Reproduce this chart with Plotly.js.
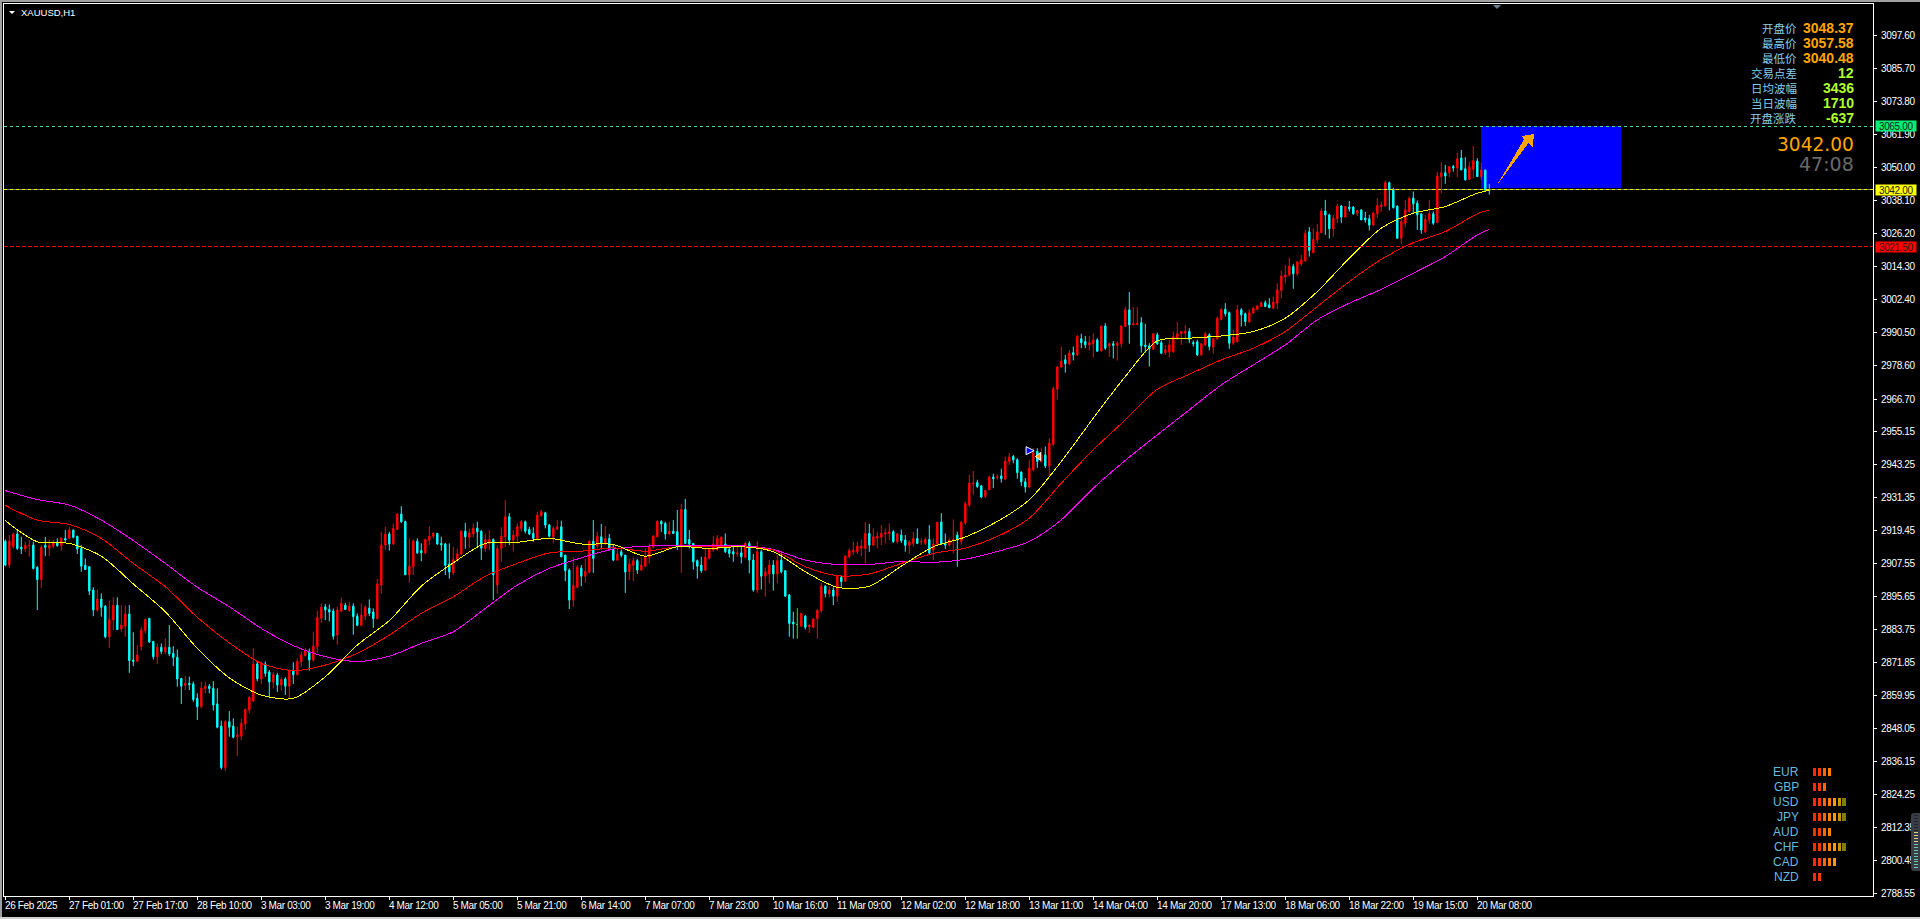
<!DOCTYPE html>
<html><head><meta charset="utf-8">
<script src="https://cdn.plot.ly/plotly-3.0.1.min.js"></script>
<style>
html,body{margin:0;padding:0;background:#000;overflow:hidden;width:1920px;height:919px}
#chart{position:absolute;left:0;top:0;width:1920px;height:919px}
.c{position:absolute}
.ytick text{letter-spacing:-.35px}
.shapelayer path,.scatterlayer path.js-line{shape-rendering:crispEdges}
</style></head><body>
<div id="chart"></div>
<script>
const high=[
2916.1,2917.7,2918.5,2919.5,2917.1,2915.3,2915.9,2915.3,2906.5,2914.1,2917.1,2916.1,2915.9,2916.5,2916.9,2919.5,2920.7,2919.7,2917.3,2914.1,
2909.3,2906.5,2898.9,2898.1,2896.7,2892.5,2894.1,2895.3,2895.3,2892.5,2892.4,2892.5,2882.7,2878.1,2884.7,2887.7,2887.9,2879.4,2878.7,2878.7,
2880.5,2885.3,2877.7,2876.5,2866.1,2866.9,2866.7,2865,2860.7,2864.9,2864.9,2864.1,2865.1,2862.5,2850.9,2851.1,2854.3,2851.7,2848.7,2851.6,
2855.3,2859.7,2877,2872,2872.2,2872.2,2869.1,2868.5,2868.1,2866.5,2866.5,2869.3,2871.9,2873.3,2875.7,2877.1,2876.8,2882.9,2890.5,2893.1,
2892.9,2892.7,2891.3,2891.9,2895.3,2893.3,2893.6,2893.1,2889.5,2893.1,2892.5,2894.5,2891.3,2901.9,2918.9,2920.7,2918.9,2921.9,2925.5,2928.1,
2922.9,2916.5,2916.1,2916.5,2914.7,2916.4,2920.9,2918.7,2918.5,2917.1,2914.9,2914.7,2913.5,2912.8,2919.5,2922.1,2920,2921.9,2922.5,2919.5,
2918.3,2919.5,2916.5,2914.1,2920.5,2930.3,2925.6,2919.5,2921.9,2923.1,2922.9,2920.7,2920.5,2926.1,2926.7,2926.1,2921.7,2920.9,2923.1,2922.9,
2910.5,2905.7,2909.7,2906.9,2906.9,2909.3,2915.7,2923.1,2918.9,2921.7,2920.9,2918.1,2914.1,2912.9,2912.5,2910.5,2909.3,2909.7,2909.1,2909.7,
2912.9,2914.7,2917.7,2923.1,2923.1,2922.5,2922.5,2923.1,2926.7,2928.9,2930.7,2919.5,2914.7,2908.9,2909.9,2912.9,2912.9,2917.3,2917.7,2917.3,
2918.3,2914.1,2913.5,2913.5,2913.7,2915.3,2915.5,2910.9,2915.5,2912.5,2906.1,2908.7,2908.7,2910.5,2911.1,2904.9,2896.5,2890.1,2891.4,2889.7,
2888.9,2885.7,2887.7,2890.9,2900.5,2899.7,2899.3,2898.9,2903.3,2903.3,2910.5,2912.9,2915.3,2915.3,2916.1,2922.3,2921.7,2920.1,2918.9,2921.3,
2920.1,2921.9,2919.5,2918.5,2919.7,2917.7,2915.9,2918.9,2920.1,2916.5,2916.9,2921.3,2916.5,2922.5,2925.6,2918.3,2916.5,2923.3,2918.9,2922.6,
2929.8,2939.4,2940.8,2937.6,2935.8,2934,2939,2939.8,2939.6,2941.6,2946,2947.2,2946.6,2945.4,2940.6,2938.2,2944.8,2949,2949,2949,
2949.6,2952.6,2971.2,2978.6,2985.6,2982.6,2984.4,2985.6,2989.8,2990.2,2989.4,2989.4,2990.4,2988.6,2993,2994,2987,2987.6,2987.4,2993.3,
3000,3005.2,2999.8,2999.8,2996.2,2993.8,2986.8,2990.4,2990.6,2987.8,2986.2,2988,2991,2994.4,2991,2993.4,2992.2,2987.8,2988,2986.8,
2990.8,2990.4,2988.6,2996.4,2999.4,3001.2,2998.2,2991.6,3000.6,2999.4,2997.8,2999,3000,3000.6,3001.8,3002.2,3003,3003.6,3008.4,3013,
3015,3017.6,3015.4,3016.2,3018.6,3027.6,3028.6,3028.2,3029.8,3035.4,3038.4,3033.4,3033,3037,3036.6,3036.2,3038,3036.2,3034.8,3035,
3034.1,3033,3034.1,3039,3037.8,3045.4,3045,3042.8,3036.4,3032.2,3038.4,3039.6,3041.4,3038.2,3033.4,3033,3038.4,3034.2,3048.6,3052,
3051,3050.4,3051,3055.4,3056.4,3053.8,3052.1,3057.8,3053.4,3051.8,3049.2,3044.2];
const low=[
2906.5,2905.9,2912.9,2912.3,2910.9,2911.7,2909.9,2905.3,2890.7,2898.7,2910.1,2910.1,2912.9,2913.5,2912.1,2915.3,2916.1,2916.5,2910.9,2904.5,
2905.1,2896.1,2888.5,2890.1,2888.3,2880.5,2877.1,2883.5,2883.5,2882.9,2881.1,2868.1,2870.5,2872.1,2876.1,2882.3,2878.9,2872.9,2871.3,2874.9,
2874.9,2874.1,2870.5,2863.1,2856.9,2861.9,2861.9,2857.7,2851.1,2855.4,2860.7,2860.7,2854.5,2848.1,2833.3,2832.7,2845.1,2844.5,2838.1,2843.9,
2847.7,2853.5,2857.7,2865,2864.1,2866.7,2859.3,2862.5,2861.2,2861.7,2860.1,2859.1,2864.1,2867.2,2870.3,2873.9,2868.9,2872.1,2875.3,2886.1,
2887.1,2886.6,2880.1,2878.2,2890.1,2890.7,2890.1,2881.8,2884.9,2884.9,2887.1,2888.5,2884.3,2887.3,2896.5,2912.3,2912.1,2914.1,2919.5,2922.1,
2903.3,2900.5,2903.3,2910.9,2908.3,2910.9,2914.1,2916.4,2914.2,2912.1,2903.3,2902,2903.4,2908.1,2910.5,2912.8,2913.1,2916.9,2913.5,2908.7,
2911.7,2912.3,2894.3,2896.7,2908,2913.5,2914.1,2911.7,2914.7,2918.9,2918.3,2917.7,2915.3,2916.1,2924.3,2920.1,2916.9,2914.7,2919.5,2909.7,
2901.1,2891.1,2891.9,2898.6,2899.3,2900.5,2903.9,2904.1,2912.9,2912.5,2914.1,2912.1,2908.3,2908.5,2909.7,2896.9,2901.5,2901.1,2903.7,2904.9,
2906.1,2907.5,2912.9,2916.9,2918.9,2916.1,2917.7,2918.1,2912.3,2904.1,2914.5,2912.9,2905.3,2902,2904.1,2904.7,2908.9,2911.7,2912.1,2913.5,
2911.3,2909.7,2908.1,2909.9,2907.5,2909.3,2903.9,2897.3,2896.9,2898.1,2895.5,2900.3,2897.7,2900.3,2903.9,2895.5,2881.1,2880.4,2880.4,2884.7,
2883.7,2882.5,2884.1,2880.4,2889.7,2895.3,2895.3,2892.5,2893.7,2899.1,2900.9,2909.3,2910.5,2910.9,2910.1,2907.5,2911.7,2913.7,2912.9,2914.1,
2914.7,2915.9,2914.9,2914.7,2914.9,2911.7,2910.9,2913.5,2914.5,2914.1,2914.1,2910.9,2908.7,2914.1,2914.1,2912.7,2913.5,2911.1,2906.3,2914.2,
2921.4,2927.8,2932.2,2934.6,2931,2931,2933.8,2934.6,2937.6,2936.6,2937.6,2943,2943.6,2938,2935.4,2933,2934.6,2940.7,2941.9,2943.8,
2941.8,2939,2949.8,2966.4,2977.8,2976.2,2978.9,2980.6,2982.2,2985,2985,2984.2,2981.6,2983.7,2983.8,2984.4,2981.8,2981.3,2980.6,2985.2,
2992.6,2986.6,2993.2,2993.3,2983.4,2983.4,2978.4,2984.4,2986.2,2983,2982.6,2981.6,2983.4,2988,2986.2,2988.2,2986.8,2985.6,2982.2,2982.2,
2985.8,2984.2,2983,2988,2995,2996.4,2984.8,2986.2,2987,2992.8,2993,2994.2,2997.4,2998.6,2999.8,2999.8,2999.4,2999,2999,3003,
3008.4,3010.8,3006.4,3011,3014.6,3016.2,3018,3019.2,3022.8,3026.4,3025.8,3024.5,3025.2,3030,3030,3032.2,3034.2,3033,3032.6,3031.2,
3030.2,3027.4,3029,3031.8,3034.2,3036,3034.6,3035.3,3024.4,3022.6,3028.6,3033.8,3033.6,3027.6,3026.2,3026.4,3029.8,3029.4,3030,3040.8,
3044.2,3046.6,3048.6,3046.6,3049.2,3045.4,3045.6,3046.2,3046.6,3045.6,3041.6,3040.3];
const open=[
2915.5,2906.9,2913.5,2918.1,2913.3,2912.7,2913.9,2914.1,2906.1,2901.7,2914,2913,2913.7,2915.2,2913.9,2916.5,2916.6,2919.5,2917.3,2912.9,
2906.8,2906.3,2897.9,2890.7,2894.7,2892.1,2881.1,2887.1,2892.4,2883.9,2884.9,2889.3,2872.7,2872.3,2877.5,2883.3,2887.7,2879.4,2873.9,2877.3,
2875.8,2877.3,2875.1,2873.7,2866.1,2863.5,2864.3,2864.1,2858.9,2855.9,2862.4,2863.3,2862.5,2856.9,2848.9,2834,2850.5,2848.9,2845.1,2845.3,
2849.7,2854.7,2857.9,2871.3,2865.9,2871.3,2868.4,2864.8,2867.3,2863.7,2865.9,2863.3,2868.9,2867.4,2872.1,2874.3,2875.8,2872.7,2877.5,2887.8,
2891.9,2890.9,2890.3,2881.7,2890.3,2892.4,2890.5,2892.1,2888.5,2885.2,2888.5,2891.4,2890,2887.6,2899.7,2914.1,2918.1,2914.5,2919.7,2925.3,
2922.6,2903.4,2906.3,2915.5,2912.1,2911.3,2915.9,2917.3,2918.3,2914.7,2914.5,2907.3,2904.1,2908.9,2910.9,2919.1,2916.9,2918.1,2920.2,2919.1,
2912.9,2914.7,2916.1,2899.7,2912.9,2917.1,2924.3,2915.9,2917.3,2920.1,2922.5,2919.7,2918.3,2916.5,2924.7,2925.7,2921.3,2917.1,2919.9,2920.7,
2910.5,2905.1,2894.3,2898.9,2905.8,2902.9,2904.4,2915.5,2913.7,2917.1,2914.7,2916.5,2912.7,2908.7,2911.7,2910.5,2904.6,2906.8,2908.5,2905.1,
2906.5,2909.7,2913.5,2917.1,2922.6,2921.9,2918.1,2919.1,2918.9,2914.1,2926.9,2916.1,2914.7,2908.5,2906.9,2905.1,2909.4,2912.3,2912.5,2914.1,
2914.5,2912.5,2911.7,2910.9,2911.3,2909.7,2914.7,2908.7,2897.9,2911.7,2902.9,2903.7,2906.9,2903.7,2908.7,2904.9,2896.1,2886.4,2885.5,2884.9,
2888.5,2884.7,2884.5,2887.6,2890.5,2899.3,2896.5,2897.9,2895.7,2902.5,2901.1,2909.9,2911.7,2911.7,2913,2912.9,2918.3,2914.1,2916.6,2916.9,
2918.1,2918.3,2918.9,2915.3,2917.7,2915.9,2914,2914.7,2916.5,2915.2,2914.7,2916.1,2912.3,2914.5,2922.4,2914.7,2914.1,2915.7,2917.7,2915.4,
2922,2928.6,2936.2,2936.6,2935.4,2931.6,2934,2938.6,2938.4,2939,2937.8,2944.2,2946,2944.8,2940.4,2936.9,2935,2941.2,2947.9,2944.2,
2946.6,2942.6,2950.4,2970.2,2978.2,2980.8,2979.4,2983.4,2982.6,2988.4,2987.4,2986.2,2986.6,2988,2984,2993,2985.8,2986.6,2986,2986.6,
2992.8,2998.8,2993.4,2993.5,2994.2,2986.1,2985.8,2984.6,2989.8,2987,2983.4,2983.7,2983.7,2988.6,2990.2,2990.4,2991,2987,2987.3,2982.6,
2986.2,2989.8,2985.4,2988.4,2995.4,2999,2997.8,2986.8,2987.4,2998.8,2997.4,2994.5,2997.6,2999,3000,3001.4,3000.6,2999.4,3001.2,3005.8,
3010.6,3011.4,3014.4,3011.8,3015.4,3016.4,3026.9,3019.4,3024,3026.6,3034.4,3033,3028,3031.6,3036.2,3032.2,3035.8,3035.8,3033.6,3034.8,
3031.9,3031.6,3029.3,3033.4,3036,3036.2,3044.6,3042,3036.2,3024.6,3030,3034.2,3039.1,3037.2,3033.4,3027,3031.2,3033.4,3030.2,3046.8,
3048.2,3048.2,3050.4,3049.9,3053.5,3049.6,3045.8,3049.4,3052.4,3046.8,3049.2,3042];
const close=[
2906.9,2915.5,2918.1,2912.9,2912.7,2914,2914,2905.7,2901.7,2913.3,2913.3,2914,2915.2,2913.9,2916.6,2915.9,2919.5,2916.9,2912.7,2906.5,
2905.3,2897.5,2890.7,2894.7,2891.7,2881.1,2887.3,2892.4,2883.7,2885.3,2889.3,2872.5,2872.2,2874.5,2883.5,2887.3,2879.2,2873.9,2877.3,2875.8,
2877.3,2874.9,2873.7,2865.9,2863.3,2864.3,2863.8,2858.5,2855.9,2862.5,2863.3,2862.4,2856.5,2848.5,2834,2850.5,2848.5,2844.9,2845.7,2849.9,
2854.9,2859.3,2871.3,2865.9,2871.3,2867.9,2864.8,2867.5,2863.7,2865.7,2863.3,2868.9,2867.4,2872.2,2874.5,2875.9,2872.7,2877.7,2888.1,2891.7,
2890.7,2890,2881.3,2890.7,2893.1,2890.9,2892.1,2888.3,2885.2,2888.9,2891.7,2889.5,2887.6,2900.1,2914.1,2918.1,2914.5,2920.1,2925.3,2922.5,
2903.4,2906.5,2915.5,2911.3,2911.3,2916.1,2917.3,2918.3,2914.5,2914.2,2906.8,2904.4,2908.9,2910.9,2919.1,2917.1,2918.5,2920.2,2918.9,2913,
2916.1,2916.1,2903.4,2912.9,2917.3,2924.3,2915.9,2917.7,2920.7,2922.5,2919.1,2918.1,2916.5,2924.9,2926.1,2921.3,2917.3,2920.1,2920.7,2909.9,
2904.9,2894.3,2899.6,2906.1,2902.9,2904.6,2915.5,2909.3,2917.3,2914.7,2916.5,2912.5,2908.7,2910.9,2910.4,2904.4,2907.3,2908.5,2905.1,2906.9,
2909.7,2913.5,2917.3,2922.6,2921.7,2918.1,2919.1,2918.3,2914.1,2926.9,2914.7,2914.5,2908.1,2906.5,2904.9,2909.7,2912.5,2914.5,2916.5,2916.9,
2911.7,2911.1,2910.9,2911.3,2909.9,2914.7,2908.7,2897.9,2911.7,2902.9,2904.5,2906.9,2903.7,2908.5,2904.5,2895.7,2885.9,2885.7,2885.5,2889.5,
2884.5,2885.2,2887.5,2890.7,2899.3,2896.7,2897.9,2895.7,2902.9,2900.9,2910.1,2912.1,2912.3,2913.7,2913.7,2918.3,2914.1,2917.1,2917.3,2918.3,
2918.5,2918.9,2915.3,2918.1,2915.7,2914,2915.2,2916.5,2914.7,2915.4,2916.1,2911.3,2914.5,2922.3,2914.5,2914.1,2915.9,2916.1,2915.9,2922.4,
2929,2936.4,2936.4,2935.2,2931.4,2933.8,2938.6,2938,2938.8,2938,2944.4,2945.8,2944.8,2940.2,2936.9,2935,2941.8,2947.4,2944.2,2946.6,
2942.6,2950.8,2970.4,2978.2,2980.4,2979.4,2983.2,2982.6,2989.2,2987,2986.2,2987,2988,2983.9,2993,2985,2986.6,2986,2986.8,2993,
2998.8,2993.4,2993.8,2994,2985.8,2985.6,2984.8,2990.2,2986.6,2983.2,2984.4,2986.2,2989.2,2990.2,2991,2991.1,2988.2,2986.6,2982.6,2986.6,
2990.2,2985.6,2988.4,2995.8,2999,2997.4,2986.8,2989,2998.8,2997,2994.6,2997.8,2999.4,3000.2,3001.4,3000,2999.6,3001.6,3006,3011,
3011.4,3014.6,3011.8,3016.1,3016.8,3026.4,3020.2,3024.2,3026.9,3034.4,3033,3028,3031.8,3036.2,3032.2,3036,3035.2,3033.4,3034.6,3031.2,
3031.2,3029.3,3033.6,3036.4,3036.6,3044.6,3042,3035.6,3024.6,3030.6,3034.8,3039,3037,3033,3027.6,3031.4,3033.4,3030,3047,3048.2,
3047,3050.4,3049.9,3053.2,3049.2,3045.6,3050.2,3052.6,3046.8,3049.2,3041.9,3041.8];

const maX=[0,8,16,24,32,40,48,56,64,72,80,88,96,104,112,120,128,136,144,152,160,168,176,184,192,200,208,216,224,232,240,248,256,264,272,280,288,296,304,312,320,328,336,344,352,360,368,371];
const maYellow=[2922.9,2915.3,2914.7,2910.1,2900.1,2890.1,2876.9,2866.3,2860.1,2858.9,2866.7,2878.1,2886.9,2899.3,2907.7,2914.7,2915.1,2916.5,2914.5,2914.3,2910.1,2913.5,2912.9,2913.5,2911.7,2904.5,2898.9,2899.3,2906.5,2913.5,2917,2922.6,2930.4,2944.2,2959.8,2974.8,2987.6,2988.6,2989.4,2991,2995.8,3005.4,3017.4,3028.2,3033.6,3036,3040.8,3041.8];
const maRed=[2928.4,2923.1,2921.5,2916.5,2907.5,2899.1,2888.1,2878.9,2871.5,2868.9,2870.9,2875.1,2881.7,2889.5,2895.5,2902.9,2907.5,2911.3,2911.9,2913.1,2911.9,2913.5,2913.5,2913.5,2912.3,2906.3,2903.1,2903.7,2907.5,2911.1,2913,2917.2,2923.8,2936.4,2948.4,2959.2,2970.2,2975.6,2980.8,2985,2991,3000,3009,3017,3023,3027,3033.4,3034.7];
const maMagenta=[2933.7,2930.5,2928.5,2923.1,2915.7,2907.5,2898.9,2891.9,2884.1,2877.9,2873.9,2872.2,2874.1,2878.7,2882.9,2891.3,2899.7,2905.7,2909.5,2912.7,2913.7,2914.1,2913.9,2913.9,2912.5,2908.7,2907.1,2907.1,2908.2,2907.9,2909,2911.8,2915.4,2923.2,2934.6,2944.6,2953.8,2962.8,2971.8,2979,2986.2,2995.2,3001.2,3006.2,3012,3018,3025.8,3027.8];

const yTicks=[3097.60,3085.70,3073.80,3061.90,3050.00,3038.10,3026.20,3014.30,3002.40,2990.50,2978.60,2966.70,2955.15,2943.25,2931.35,2919.45,2907.55,2895.65,2883.75,2871.85,2859.95,2848.05,2836.15,2824.25,2812.35,2800.45,2788.55];
const xTickLabels=["26 Feb 2025","27 Feb 01:00","27 Feb 17:00","28 Feb 10:00","3 Mar 03:00","3 Mar 19:00","4 Mar 12:00","5 Mar 05:00","5 Mar 21:00","6 Mar 14:00","7 Mar 07:00","7 Mar 23:00","10 Mar 16:00","11 Mar 09:00","12 Mar 02:00","12 Mar 18:00","13 Mar 11:00","14 Mar 04:00","14 Mar 20:00","17 Mar 13:00","18 Mar 06:00","18 Mar 22:00","19 Mar 15:00","20 Mar 08:00"];
const xTickStep=16;

const infoLabels=["开盘价","最高价","最低价","交易点差","日均波幅","当日波幅","开盘涨跌"];
const infoValues=["3048.37","3057.58","3040.48","12","3436","1710","-637"];
const currencies=["EUR","GBP","USD","JPY","AUD","CHF","CAD","NZD"];
const strength=[4,3,7,7,4,7,5,2];
const levels=[{p:3065.00,c:"#40E0A0",tag:"#00EE76",t:"3065.00",dash:"3px,3px"},{p:3042.00,c:"#FFFF00",tag:"#FFFF00",t:"3042.00",dash:"3px,3px"},{p:3021.50,c:"#FF0000",tag:"#FF0000",t:"3021.50",dash:"4px,2px"}];

// ---- frame geometry
const W=1920,H=919,L=4,T=4,R=1873,B=896;
const X=x=>(x-L)/(R-L), Y=y=>(B-y)/(B-T);
const barPx=4, x0Px=5.3, yRefPx=35.5, yScale=2.777;
const idx=x=>(x-x0Px)/barPx, price=y=>3097.6-(y-yRefPx)/yScale;
const axisFont="'Liberation Sans',Arial,sans-serif";
const labelBlue="#87CEEB";

const n=high.length, ids=[...Array(n).keys()];
const mainIds=ids.filter(i=>open[i]!==close[i]), dojiIds=ids.filter(i=>open[i]===close[i]);
const pick=(a,s)=>s.map(i=>a[i]);
const cs=(s,up,dn)=>({type:"candlestick",x:s,open:pick(open,s),high:pick(high,s),low:pick(low,s),close:pick(close,s),
  increasing:{line:{color:up,width:1},fillcolor:up},decreasing:{line:{color:dn,width:1},fillcolor:dn},whiskerwidth:0,hoverinfo:"skip",showlegend:false});
const line=(y,c)=>({type:"scatter",mode:"lines",x:maX,y:y,line:{color:c,width:1,shape:"spline",smoothing:0.8},hoverinfo:"skip",showlegend:false});

const traces=[cs(mainIds,"#FF0000","#00FFFF"),cs(dojiIds,"#00FF00","#00FF00"),
  line(maMagenta,"#FF00FF"),line(maRed,"#FF0000"),line(maYellow,"#FFFF00"),
  {type:"scatter",mode:"markers",x:[257.2],y:[2948.1],marker:{symbol:"arrow-right",size:8,color:"#0000FF",line:{color:"#FFFFFF",width:1}},hoverinfo:"skip",showlegend:false},
  {type:"scatter",mode:"markers",x:[258.4],y:[2946],marker:{symbol:"triangle-left",size:7,color:"#FFA500",line:{color:"#FFFFFF",width:1}},hoverinfo:"skip",showlegend:false}];

const shapes=[];
shapes.push({type:"rect",layer:"below",xref:"x",yref:"y",x0:idx(1481),x1:idx(1621),y0:price(188),y1:3065,fillcolor:"#0000FF",line:{width:0}});
shapes.push({type:"line",layer:"below",xref:"paper",yref:"y",x0:0,x1:1,y0:3042,y1:3042,line:{color:"#778899",width:1}});
levels.forEach(l=>shapes.push({type:"line",layer:"above",xref:"paper",yref:"y",x0:0,x1:1,y0:l.p,y1:l.p,line:{color:l.c,width:1,dash:l.dash}}));
const arrow=[[1497,185],[1524,139.5],[1521.7,136],[1534,134],[1532.7,146.7],[1528.5,143]];
shapes.push({type:"path",xref:"paper",yref:"paper",path:"M"+arrow.map(p=>X(p[0])+","+Y(p[1])).join(" L")+" Z",fillcolor:"#FFA500",line:{width:0}});
const stepCols=["#FF2A00","#FF3A00","#FF6600","#FF8000","#FF9900","#C89600","#808000"];
strength.forEach((s,r)=>{for(let k=0;k<s;k++){const x=1813+k*4.9,y=771.7+r*15;
  shapes.push({type:"rect",xref:"paper",yref:"paper",x0:X(x),x1:X(x+3.2),y0:Y(y+4),y1:Y(y-4),fillcolor:stepCols[k],line:{width:0}});}});

const ann=[];
const txt=(x,y,text,font,anchor)=>ann.push({xref:"paper",yref:"paper",x:X(x),y:Y(y),text,font,xanchor:anchor||"left",yanchor:"middle",showarrow:false,borderpad:0});
xTickLabels.forEach((t,i)=>ann.push({xref:"x",yref:"paper",x:i*xTickStep,y:Y(905.5),text:t,font:{family:axisFont,size:10,color:"#FFFFFF"},xanchor:"left",xshift:-3,yanchor:"middle",showarrow:false,borderpad:0}));
levels.forEach(l=>ann.push({xref:"paper",yref:"y",x:X(1874.5),y:l.p,text:l.t,font:{family:axisFont,size:10,color:"#202020"},bgcolor:l.tag,xanchor:"left",yanchor:"middle",showarrow:false,width:40,height:10,borderpad:0,align:"center"}));
txt(19.5,12.5,"XAUUSD,H1",{family:"'Liberation Sans',Arial,sans-serif",size:9.5,color:"#FFFFFF"});
infoLabels.forEach((t,i)=>{const y=28+i*15;
  txt(1798,y,t,{family:"'Noto Sans CJK SC',sans-serif",size:11.5,color:labelBlue},"right");
  txt(1855,y,"<b>"+infoValues[i]+"</b>",{family:"'Liberation Sans',Arial,sans-serif",size:14,color:i<3?"#FFA500":"#ADFF2F"},"right");});
txt(1855,145,"3042.00",{family:"'DejaVu Sans',sans-serif",size:18.6,color:"#FFA500"},"right");
txt(1855,163.5,"47:08",{family:"'DejaVu Sans',sans-serif",size:19,color:"#696969"},"right");
currencies.forEach((t,i)=>txt(1800,771.7+i*15,t,{family:"'Liberation Sans',Arial,sans-serif",size:12,color:"#66BBDD"},"right"));

const layout={width:W,height:H,margin:{l:L,t:T,r:W-R,b:H-B,pad:0},paper_bgcolor:"#000",plot_bgcolor:"#000",showlegend:false,dragmode:false,boxgap:0.5,
  xaxis:{type:"linear",range:[idx(L),idx(R)],rangeslider:{visible:false},showgrid:false,zeroline:false,showline:true,mirror:true,linecolor:"#FFF",linewidth:1,
    tickmode:"array",tickvals:xTickLabels.map((_,i)=>i*xTickStep),ticks:"outside",ticklen:3,tickcolor:"#FFF",tickwidth:1,showticklabels:false},
  yaxis:{side:"right",range:[price(B),price(T)],showgrid:false,zeroline:false,showline:true,mirror:true,linecolor:"#FFF",linewidth:1,
    tickmode:"array",tickvals:yTicks,ticktext:yTicks.map(v=>v.toFixed(2)),ticks:"outside",ticklen:3,tickcolor:"#FFF",tickwidth:1,ticklabelstandoff:2,tickfont:{family:axisFont,size:10,color:"#FFF"}},
  shapes:shapes,annotations:ann};

Plotly.newPlot("chart",traces,layout,{displayModeBar:false,staticPlot:true}).then(()=>{
  document.querySelectorAll(".annotation-text").forEach(t=>{if(parseFloat(t.style.fontSize)===10)t.style.letterSpacing="-0.35px";});
  const add=(x,y,w,h,c,extra)=>{const d=document.createElement("div");d.className="c";d.style.cssText=`left:${x}px;top:${y}px;width:${w}px;height:${h}px;background:${c};`+(extra||"");document.body.appendChild(d);};
  add(0,0,1920,2,"#A0A0A0"); add(0,0,2,919,"#A0A0A0"); add(0,917,1920,2,"#D0D0D0");
  const tri=(x,y,w,h,c)=>{const d=document.createElement("div");d.className="c";d.style.cssText=`left:${x}px;top:${y}px;width:0;height:0;border-left:${w/2}px solid transparent;border-right:${w/2}px solid transparent;border-top:${h}px solid ${c};`;document.body.appendChild(d);};
  tri(8.5,11,7,3.5,"#FFF"); tri(1492.5,5,9.5,4.5,"#708090");
  add(1910.5,813,9.5,57.5,"#3A3D45","border-radius:3px 0 0 3px;");
  for(let k=0;k<19;k++){add(1913.5,815+k*2.9,4.5,1,k<6?"#20242A":(k<10?"#D8D080":"#70C8B0"));}
});
</script>
</body></html>
